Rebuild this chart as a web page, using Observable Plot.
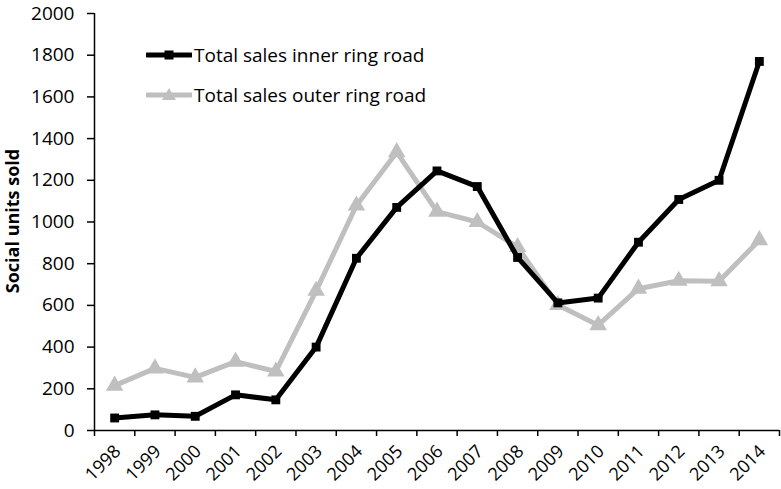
<!DOCTYPE html>
<html>
<head>
<meta charset="utf-8">
<script src="https://cdn.jsdelivr.net/npm/d3@7"></script>
<script src="https://cdn.jsdelivr.net/npm/@observablehq/plot@0.6"></script>
<style>
  html, body { margin: 0; padding: 0; background: #fff; }
  #wrap { position: relative; width: 781px; height: 489px; font-family: "Open Sans", sans-serif; }
  #legend { position: absolute; left: 146px; top: 35px; font-size: 19px; color: #000; line-height: 40px; }
  #legend div { display: flex; align-items: center; white-space: nowrap; }
  #legend svg { margin-right: 2px; }
</style>
</head>
<body>
<div id="wrap"><div id="chart"></div><div id="legend"></div></div>
<script>
const years = [1998,1999,2000,2001,2002,2003,2004,2005,2006,2007,2008,2009,2010,2011,2012,2013,2014];
const innerRing = [60,75,68,171,147,400,826,1070,1245,1170,830,612,635,903,1108,1200,1770];
const outerRing = [215,298,255,330,283,670,1079,1335,1050,1000,880,602,505,680,718,716,913];
const yTicks = [0,200,400,600,800,1000,1200,1400,1600,1800,2000];
const seriesNames = ["Total sales inner ring road", "Total sales outer ring road"];
const seriesColors = ["#000000", "#bfbfbf"];

const innerData = years.map((y, i) => ({year: y, value: innerRing[i]}));
const outerData = years.map((y, i) => ({year: y, value: outerRing[i]}));
const bandEdges = d3.range(years[0] - 0.5, years[years.length - 1] + 1, 1);

const chart = Plot.plot({
  width: 781,
  height: 489,
  marginLeft: 94,
  marginRight: 2,
  marginTop: 13,
  marginBottom: 59,
  style: {fontFamily: "Open Sans, sans-serif", fontSize: "19px", color: "#000", background: "#fff"},
  x: {domain: [years[0] - 0.5, years[years.length - 1] + 0.5]},
  y: {domain: [0, 2000]},
  marks: [
    Plot.ruleY([0], {stroke: "#000", strokeWidth: 1.5}),
    Plot.ruleX([years[0] - 0.5], {stroke: "#000", strokeWidth: 1.5}),
    Plot.axisY({ticks: yTicks, tickSize: 7, tickPadding: 13, tickFormat: d => String(d), label: null, fontSize: 19, strokeWidth: 1.5}),
    Plot.axisX({ticks: bandEdges, tickSize: 6, tickFormat: () => "", label: null, strokeWidth: 1.5}),
    Plot.text(years, {x: d => d, y: () => 0, text: d => String(d), rotate: -45, textAnchor: "end", lineAnchor: "middle", dx: 3, dy: 18, fontSize: 18, fill: "#000"}),
    Plot.line(outerData, {x: "year", y: "value", stroke: seriesColors[1], strokeWidth: 5}),
    Plot.dot(outerData, {x: "year", y: "value", symbol: "triangle", r: 6.5, fill: seriesColors[1], stroke: "none"}),
    Plot.line(innerData, {x: "year", y: "value", stroke: seriesColors[0], strokeWidth: 5}),
    Plot.dot(innerData, {x: "year", y: "value", symbol: "square", r: 5, fill: seriesColors[0], stroke: "none"})
  ]
});
document.getElementById("chart").appendChild(chart);

// Y-axis title
const svg = d3.select(chart);
svg.append("text")
  .attr("transform", "translate(19,221) rotate(-90)")
  .attr("text-anchor", "middle")
  .attr("font-weight", "bold")
  .attr("font-size", 18)
  .attr("font-family", "Open Sans, sans-serif")
  .attr("fill", "#000")
  .text("Social units sold");

// Legend
const legend = d3.select("#legend");
seriesNames.forEach((name, i) => {
  const row = legend.append("div");
  const s = row.append("svg").attr("width", 46).attr("height", 16);
  s.append("line").attr("x1", 1).attr("x2", 45).attr("y1", 8).attr("y2", 8)
    .attr("stroke", seriesColors[i]).attr("stroke-width", 5).attr("stroke-linecap", "round");
  if (i === 0) {
    s.append("rect").attr("x", 18.5).attr("y", 3.5).attr("width", 9).attr("height", 9).attr("fill", seriesColors[i]);
  } else {
    s.append("path").attr("d", "M23,1 L30,13 L16,13 Z").attr("fill", seriesColors[i]);
  }
  row.append("span").text(name);
});
</script>
</body>
</html>
